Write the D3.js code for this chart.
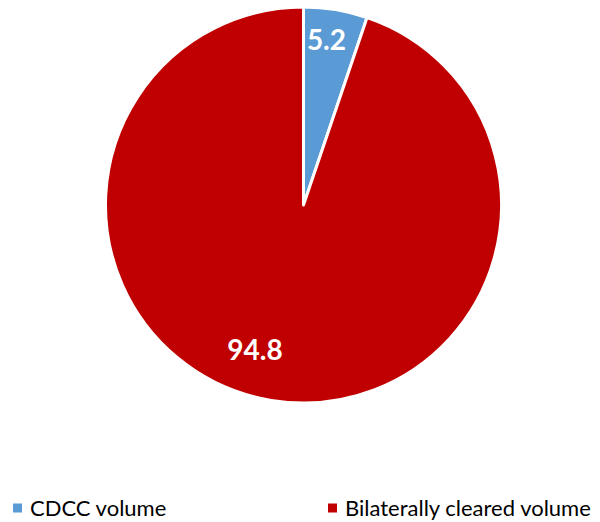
<!DOCTYPE html>
<html>
<head>
<meta charset="utf-8">
<script src="https://cdn.jsdelivr.net/npm/d3@7"></script>
<style>
  body { margin: 0; background: #fff; }
  svg { display: block; font-family: Lato, "Open Sans", sans-serif; }
</style>
</head>
<body>
<svg id="chart" width="600" height="522"></svg>
<script>
const categories = ["CDCC volume", "Bilaterally cleared volume"];
const values = [5.2, 94.8];
const colors = ["#5B9BD5", "#C00000"];
// label placement inside slices: [radius fraction, angle shift in radians]
const labelPlace = [[0.84, -0.025], [0.77, 0.16]];

const svg = d3.select("#chart");
const cx = 303.5, cy = 205, r = 198;

const pie = d3.pie().sort(null).value(d => d)(values);
const arc = d3.arc().innerRadius(0).outerRadius(r);

const g = svg.append("g").attr("transform", `translate(${cx}, ${cy})`);

g.selectAll("path")
    .data(pie)
    .enter().append("path")
    .attr("d", arc)
    .attr("fill", (d, i) => colors[i])
    .attr("stroke", "#fff")
    .attr("stroke-width", 3)
    .attr("stroke-linejoin", "round");

g.selectAll("text")
    .data(pie)
    .enter().append("text")
    .attr("transform", (d, i) => {
        const [f, shift] = labelPlace[i];
        const a = (d.startAngle + d.endAngle) / 2 + shift;
        return `translate(${Math.sin(a) * r * f}, ${-Math.cos(a) * r * f})`;
    })
    .attr("text-anchor", "middle")
    .attr("dy", "0.36em")
    .attr("fill", "#fff")
    .attr("font-weight", "bold")
    .attr("font-size", 28)
    .text(d => d.data.toFixed(1));

// legend
const legendX = [13, 328];
const legend = svg.selectAll("g.legend")
    .data(categories)
    .enter().append("g")
    .attr("class", "legend")
    .attr("transform", (d, i) => `translate(${legendX[i]}, 508)`);

legend.append("rect")
    .attr("x", 0).attr("y", -4.5)
    .attr("width", 9).attr("height", 9)
    .attr("fill", (d, i) => colors[i]);

legend.append("text")
    .attr("x", 17)
    .attr("dy", "0.35em")
    .attr("font-size", 22)
    .attr("fill", "#000")
    .text(d => d);
</script>
</body>
</html>
